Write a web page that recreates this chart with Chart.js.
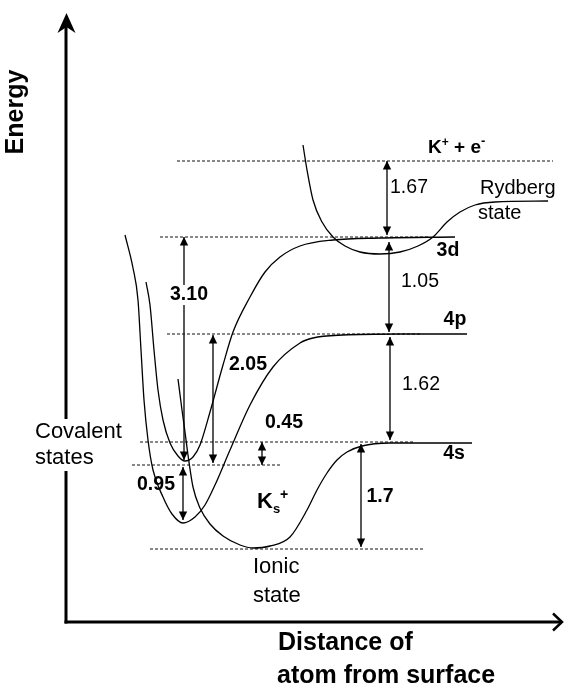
<!DOCTYPE html>
<html>
<head>
<meta charset="utf-8">
<script src="https://cdn.jsdelivr.net/npm/chart.js@4.4.1/dist/chart.umd.min.js"></script>
<style>
  html, body { margin: 0; padding: 0; background: #ffffff; }
  canvas { display: block; }
</style>
</head>
<body>
<canvas id="diagram" width="568" height="690"></canvas>
<script>
// ---- Data: schematic energy diagram, distance (x) and energy (y) in arbitrary units ----

// Potential curves as [distance, energy] pairs
const curve4p = [[59,387],[67,354],[72,322],[75,272],[78,222],[82,182],[87,152],[97,125],[106,108],[117,99],
  [129,105],[139,117],[149,137],[164,172],[184,217],[207,255],[234,279],[247,284],[277,287],[334,288],[401,288]];
const curve3d = [[80,340],[84,317],[88,272],[92,232],[97,202],[104,179],[112,166],[119,161],[127,165],[134,177],
  [144,210],[157,257],[167,290],[184,325],[199,350],[214,365],[234,376],[267,382],[314,384],[389,385]];
const curveIonic = [[112,243],[116,212],[119,190],[122,167],[127,135],[134,114],[144,98],[157,86],[174,77],[187,74],
  [204,76],[224,85],[241,112],[251,132],[261,149],[271,162],[281,170],[296,176],[324,179],[406,179]];
const curveRydberg = [[237,477],[241,452],[247,422],[256,400],[267,385],[279,376],[294,370],[314,368],[334,370],
  [352,376],[367,385],[381,400],[394,410],[409,417],[429,420],[482,421]];

// Reference levels (dashed): energy and distance span
const levelNames  = ['K+ + e-', '3d', '4p', '4s', 'covalent', 'ionic'];
const levelEnergy = [461, 385, 288, 180, 157, 73];
const levelFrom   = [111, 94, 101, 74, 66, 84];
const levelTo     = [487, 364, 354, 347, 214, 357];

// Energy gaps (eV) shown as double arrows
const gapText   = ['3.10', '2.05', '0.45', '0.95', '1.67', '1.05', '1.62', '1.7'];
const gapX      = [118, 147, 196, 117, 321, 323, 324, 295];
const gapTop    = [385, 287, 180, 155, 461, 380, 285, 178];
const gapBottom = [162, 159, 157, 102, 387, 290, 182, 75];

// Axis ranges
const xRange = [0, 496];
const yRange = [0, 609];

// ---- Styling / placement ----
const FONT = '"Liberation Sans", Arial, Helvetica, sans-serif';
const INK = '#000000';
const gapLabelAt   = [[123,327],[182,257],[218,199],[90,137],[343,434],[354,340],[355,237],[314,125]];
const gapLabelBold = [true, true, true, true, false, false, false, true];
const gapLabelMask = [true, false, false, false, false, false, false, false];

const toPoints = arr => arr.map(([x, y]) => ({ x, y }));

const datasets = [];
[curve4p, curve3d, curveIonic, curveRydberg].forEach(c => {
  datasets.push({
    data: toPoints(c), showLine: true, borderColor: INK, borderWidth: 1.3,
    cubicInterpolationMode: 'monotone', pointRadius: 0, fill: false, clip: false
  });
});
levelEnergy.forEach((e, i) => {
  datasets.push({
    data: [{ x: levelFrom[i], y: e }, { x: levelTo[i], y: e }],
    showLine: true, borderColor: '#111111', borderWidth: 1, borderDash: [3, 2],
    pointRadius: 0, tension: 0, fill: false, clip: false
  });
});
gapX.forEach((x, i) => {
  datasets.push({
    data: [{ x, y: gapTop[i] }, { x, y: gapBottom[i] }],
    showLine: true, borderColor: INK, borderWidth: 1.3,
    pointRadius: 0, tension: 0, fill: false, clip: false
  });
});

function runs(ctx, x, y, parts) {
  ctx.textAlign = 'left';
  ctx.textBaseline = 'alphabetic';
  for (const [t, size, weight, dy] of parts) {
    ctx.font = `${weight} ${size}px ${FONT}`;
    ctx.fillText(t, x, y + dy);
    x += ctx.measureText(t).width;
  }
}

const diagramPlugin = {
  id: 'diagram',
  beforeDatasetsDraw(chart) {
    const { ctx, chartArea: a } = chart;
    ctx.save();
    ctx.strokeStyle = INK;
    ctx.fillStyle = INK;
    ctx.lineWidth = 3;
    // vertical axis with filled head
    ctx.beginPath();
    ctx.moveTo(a.left, a.bottom + 1.5);
    ctx.lineTo(a.left, a.top + 14);
    ctx.stroke();
    ctx.beginPath();
    ctx.moveTo(a.left + 0.5, a.top);
    ctx.lineTo(a.left - 8.5, a.top + 20);
    ctx.lineTo(a.left + 0.5, a.top + 14);
    ctx.lineTo(a.left + 9.5, a.top + 20);
    ctx.closePath();
    ctx.fill();
    // horizontal axis with open head
    ctx.beginPath();
    ctx.moveTo(a.left - 1.5, a.bottom);
    ctx.lineTo(a.right, a.bottom);
    ctx.stroke();
    ctx.lineWidth = 2.5;
    ctx.beginPath();
    ctx.moveTo(a.right - 9, a.bottom - 8.5);
    ctx.lineTo(a.right, a.bottom);
    ctx.lineTo(a.right - 9, a.bottom + 8.5);
    ctx.stroke();
    ctx.restore();
  },
  afterDatasetsDraw(chart) {
    const { ctx, scales: { x: sx, y: sy } } = chart;
    const X = v => sx.getPixelForValue(v);
    const Y = v => sy.getPixelForValue(v);
    ctx.save();
    ctx.fillStyle = INK;

    // arrow heads
    const head = (px, py, dir) => {
      ctx.beginPath();
      ctx.moveTo(px, py);
      ctx.lineTo(px - 4.2, py - dir * 8.5);
      ctx.lineTo(px + 4.2, py - dir * 8.5);
      ctx.closePath();
      ctx.fill();
    };
    gapX.forEach((x, i) => {
      head(X(x), Y(gapTop[i]), -1);
      head(X(x), Y(gapBottom[i]), 1);
    });

    // gap values
    ctx.textAlign = 'center';
    ctx.textBaseline = 'middle';
    gapText.forEach((t, i) => {
      ctx.font = `${gapLabelBold[i] ? 'bold ' : ''}19.5px ${FONT}`;
      const px = X(gapLabelAt[i][0]), py = Y(gapLabelAt[i][1]);
      if (gapLabelMask[i]) {
        const w = ctx.measureText(t).width;
        ctx.fillStyle = '#ffffff';
        ctx.fillRect(px - w / 2 - 1, py - 10, w + 2, 20);
        ctx.fillStyle = INK;
      }
      ctx.fillText(t, px, py);
    });

    // level names
    ctx.font = `bold 19.5px ${FONT}`;
    ctx.fillText(levelNames[1], X(382), Y(371));
    ctx.fillText(levelNames[2], X(389), Y(302));
    ctx.fillText(levelNames[3], X(388), Y(168));
    runs(ctx, X(362), Y(469), [['K', 19, 'bold', 0], ['+', 12, 'bold', -7], [' + e', 19, 'bold', 0], ['-', 13, 'bold', -8]]);

    // state descriptions
    ctx.textAlign = 'left';
    ctx.textBaseline = 'middle';
    ctx.font = `20px ${FONT}`;
    ctx.fillText('Rydberg', X(414), Y(434));
    ctx.fillText('state', X(412), Y(409));

    ctx.font = `22px ${FONT}`;
    [['Covalent', 190], ['states', 164]].forEach(([t, e]) => {
      const w = ctx.measureText(t).width;
      ctx.fillStyle = '#ffffff';
      ctx.fillRect(X(-31) - 2, Y(e) - 13, w + 4, 26);
      ctx.fillStyle = INK;
      ctx.fillText(t, X(-31), Y(e));
    });
    ctx.fillText('Ionic', X(187), Y(55));
    ctx.fillText('state', X(187), Y(26));

    runs(ctx, X(191), Y(122) + 7.5, [['K', 22, 'bold', 0], ['s', 13, 'bold', 5], ['+', 14, 'bold', -9]]);

    // axis titles
    ctx.font = `bold 25px ${FONT}`;
    ctx.textAlign = 'left';
    ctx.fillText('Distance of', 278, 650);
    ctx.fillText('atom from surface', 277, 683);
    ctx.save();
    ctx.translate(23, 112);
    ctx.rotate(-Math.PI / 2);
    ctx.textAlign = 'center';
    ctx.fillText('Energy', 0, 0);
    ctx.restore();

    ctx.restore();
  }
};

new Chart(document.getElementById('diagram'), {
  type: 'scatter',
  data: { datasets },
  options: {
    responsive: false,
    animation: false,
    devicePixelRatio: 1,
    layout: { padding: { left: 66, top: 13, right: 6, bottom: 68 } },
    scales: {
      x: { type: 'linear', min: xRange[0], max: xRange[1], display: false },
      y: { type: 'linear', min: yRange[0], max: yRange[1], display: false }
    },
    plugins: { legend: { display: false }, tooltip: { enabled: false }, title: { display: false } },
    elements: { point: { radius: 0 } }
  },
  plugins: [diagramPlugin]
});
</script>
</body>
</html>
